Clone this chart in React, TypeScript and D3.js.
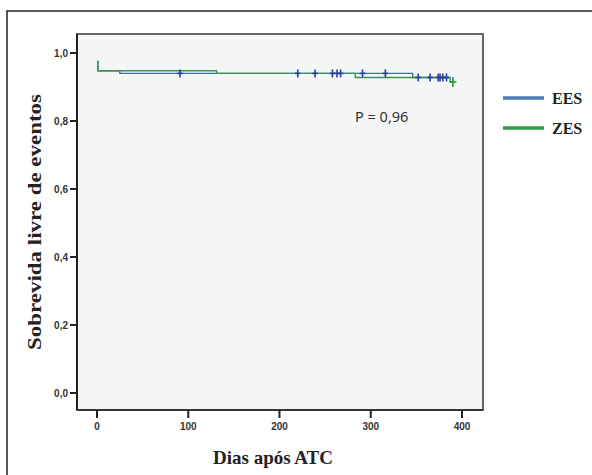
import React from 'react';
import * as d3 from 'd3';

// Kaplan-Meier steps: [day, survival]
const eesSteps: [number, number][] = [[0, 0.975], [1, 0.948], [25, 0.94], [346, 0.928], [386, 0.928]];
const zesSteps: [number, number][] = [[0, 0.975], [1, 0.948], [131, 0.94], [283, 0.928], [387, 0.915], [391, 0.915]];
// censored observations (days)
const eesCensored = [91, 220, 239, 258, 263, 267, 291, 316, 352, 365, 374, 376, 379, 383];
const zesCensored = [390];

const xTicks = [0, 100, 200, 300, 400];
const yTicks = [0, 0.2, 0.4, 0.6, 0.8, 1.0];
const legendItems = [
  { name: 'EES', color: '#4a7db3' },
  { name: 'ZES', color: '#2f9a48' },
];

const W = 592;
const H = 475;
const plot = { left: 77, top: 34, right: 483, bottom: 410 };

function stepValue(steps: [number, number][], t: number) {
  let v = steps[0][1];
  steps.forEach((s) => { if (s[0] <= t) v = s[1]; });
  return v;
}

export default function App() {
  const x = d3.scaleLinear().domain([0, 400]).range([97, 462]);
  const y = d3.scaleLinear().domain([0, 1]).range([393, 53]);

  const line = d3.line<[number, number]>()
    .x((d) => x(d[0]))
    .y((d) => y(d[1]))
    .curve(d3.curveStepAfter);

  const fmt = (v: number) => v.toFixed(1).replace('.', ',');

  const censor = (days: number[], steps: [number, number][], color: string, size: number, key: string) => days.map((d, i) => {
    const cx = x(d);
    const cy = y(stepValue(steps, d));
    return (
      <g key={`${key}${i}`} stroke={color} strokeWidth={1.6}>
        <line x1={cx} x2={cx} y1={cy - size} y2={cy + size} />
        <line x1={cx - size * 0.7} x2={cx + size * 0.7} y1={cy} y2={cy} />
      </g>
    );
  });

  return (
    <svg width={W} height={H} style={{ position: 'absolute', left: 0, top: 0, background: '#fff' }}>
      <rect x={7} y={11} width={620} height={520} fill="none" stroke="#222" strokeWidth={1.5} />
      <rect x={plot.left} y={plot.top} width={plot.right - plot.left} height={plot.bottom - plot.top}
        fill="#f4f5f5" stroke="#666" strokeWidth={2} />
      <line x1={plot.left} x2={plot.left} y1={plot.top} y2={plot.bottom} stroke="#222" strokeWidth={2} />
      <line x1={plot.left} x2={plot.right} y1={plot.bottom} y2={plot.bottom} stroke="#333" strokeWidth={2} />

      {yTicks.map((t) => (
        <g key={`y${t}`}>
          <line x1={plot.left - 7} x2={plot.left} y1={y(t)} y2={y(t)} stroke="#222" strokeWidth={2} />
          <text x={plot.left - 9} y={y(t)} dy="0.35em" textAnchor="end"
            fontFamily="Liberation Sans, Arial, sans-serif" fontWeight="bold" fontSize={10} fill="#333">{fmt(t)}</text>
        </g>
      ))}
      {xTicks.map((t) => (
        <g key={`x${t}`}>
          <line x1={x(t)} x2={x(t)} y1={plot.bottom} y2={plot.bottom + 8} stroke="#222" strokeWidth={2} />
          <text x={x(t)} y={plot.bottom + 20} textAnchor="middle"
            fontFamily="Liberation Sans, Arial, sans-serif" fontWeight="bold" fontSize={10} fill="#333">{t}</text>
        </g>
      ))}

      <path d={line(eesSteps) || ''} fill="none" stroke="#3f6fb0" strokeWidth={1.4} />
      <path d={line(zesSteps) || ''} fill="none" stroke="#3f9452" strokeWidth={1.4} />
      {censor(eesCensored, eesSteps, '#2b3f9c', 4, 'e')}
      {censor(zesCensored, zesSteps, '#1f9a3a', 5, 'z')}

      <text x={355} y={122} fontFamily="Noto Sans, sans-serif" fontSize={14.5} fill="#333">P = 0,96</text>

      <text transform="translate(41, 222) rotate(-90)" textAnchor="middle" textLength={256} lengthAdjust="spacingAndGlyphs"
        fontFamily="Liberation Serif, serif" fontWeight="bold" fontSize={19.5} fill="#222">Sobrevida livre de eventos</text>
      <text x={273} y={464} textAnchor="middle"
        fontFamily="Liberation Serif, serif" fontWeight="bold" fontSize={19} fill="#222">Dias após ATC</text>

      {legendItems.map((item, i) => (
        <g key={item.name}>
          <line x1={503} x2={544} y1={98 + i * 30} y2={98 + i * 30} stroke={item.color} strokeWidth={3.5} />
          <text x={552} y={98 + i * 30} dy="0.35em" fontFamily="Liberation Serif, serif" fontWeight="bold"
            fontSize={16} fill="#222">{item.name}</text>
        </g>
      ))}
    </svg>
  );
}
